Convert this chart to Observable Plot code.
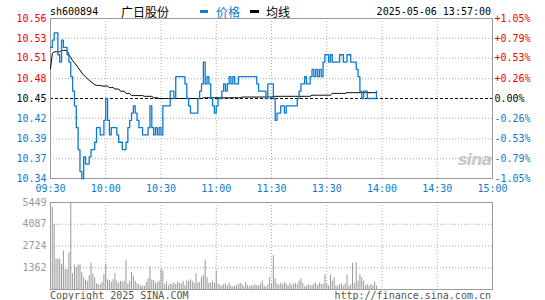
<!DOCTYPE html>
<html><head><meta charset="utf-8">
<script src="https://cdn.jsdelivr.net/npm/d3@7"></script>
<script src="https://cdn.jsdelivr.net/npm/@observablehq/plot@0.6"></script>
<style>
body{margin:0;background:#fff;}
#wrap{position:relative;width:545px;height:300px;overflow:hidden;background:#fff;font-family:"DejaVu Sans Mono",monospace;font-size:10px;}
.abs{position:absolute;white-space:nowrap;line-height:12px;}
.cjk{font-family:"Noto Sans CJK SC",sans-serif;font-size:12px;line-height:14px;}
#main,#vol{position:absolute;left:0;}
#main{top:0;}#vol{top:190px;}
</style></head><body>
<div id="wrap">
  <div id="main"></div>
  <div id="vol"></div>
  <span class="abs" style="left:50px;top:5.5px;color:#000;">sh600894</span>
  <span class="abs cjk" style="left:121px;top:4.5px;color:#000;">广日股份</span>
  <span class="abs" style="left:200px;top:10px;width:8px;height:3px;background:#0b7ad0;"></span>
  <span class="abs cjk" style="left:216px;top:4.5px;color:#0b7ad0;">价格</span>
  <span class="abs" style="left:250px;top:10px;width:9px;height:3px;background:#000;"></span>
  <span class="abs cjk" style="left:266px;top:4.5px;color:#000;">均线</span>
  <span class="abs" style="right:54px;top:5.5px;color:#000;">2025-05-06 13:57:00</span>
  <span class="abs" style="left:458px;top:151px;font-family:'DejaVu Sans';font-style:italic;font-weight:bold;font-size:16px;line-height:18px;color:#c8c8c8;letter-spacing:-1px;">sina</span>
  <span class="abs" style="left:50px;top:290px;color:#555;">Copyright 2025 SINA.COM</span>
  <span class="abs" style="right:54px;top:290px;color:#555;">http://finance.sina.com.cn</span>
</div>
<script>
const prevClose = 10.45;
const timeTicks = [0, 30, 60, 90, 120, 150, 180, 210, 240];
const timeLabels = ["09:30","10:00","10:30","11:00","11:30","13:30","14:00","14:30","15:00"];
const pctTicks = [1.05, 0.79, 0.53, 0.26, 0, -0.26, -0.53, -0.79, -1.05];
const priceLabels = ["10.56","10.53","10.51","10.48","10.45","10.42","10.39","10.37","10.34"];
const pctLabels = ["+1.05%","+0.79%","+0.53%","+0.26%","0.00%","-0.26%","-0.53%","-0.79%","-1.05%"];
const volTicks = [5449, 4087, 2724, 1362];

// minute-by-minute price (index = minute from 09:30; 121+ = afternoon from 13:01)
const prices = [
10.52,10.53,10.54,10.54,10.51,10.50,10.53,10.52,10.52,10.51,
10.50,10.48,10.46,10.44,10.41,10.38,10.35,10.34,10.37,10.36,
10.36,10.37,10.38,10.38,10.39,10.41,10.41,10.40,10.40,10.42,
10.45,10.42,10.40,10.41,10.41,10.41,10.40,10.39,10.39,10.38,
10.38,10.39,10.41,10.42,10.43,10.44,10.43,10.42,10.41,10.41,
10.40,10.40,10.40,10.41,10.44,10.41,10.40,10.41,10.40,10.41,
10.40,10.44,10.44,10.44,10.44,10.46,10.46,10.45,10.48,10.48,
10.48,10.48,10.48,10.47,10.45,10.44,10.43,10.43,10.43,10.43,
10.45,10.46,10.47,10.50,10.47,10.48,10.47,10.45,10.44,10.43,
10.44,10.45,10.45,10.46,10.47,10.46,10.47,10.48,10.47,10.48,
10.47,10.47,10.48,10.48,10.48,10.48,10.48,10.48,10.48,10.48,
10.48,10.48,10.47,10.46,10.46,10.46,10.46,10.45,10.47,10.47,
10.47,10.45,10.42,10.43,10.43,10.44,10.44,10.43,10.44,10.44,
10.44,10.44,10.44,10.44,10.45,10.46,10.47,10.47,10.48,10.47,
10.47,10.48,10.49,10.48,10.49,10.48,10.49,10.48,10.50,10.51,
10.51,10.50,10.51,10.50,10.50,10.50,10.50,10.51,10.51,10.50,
10.50,10.51,10.51,10.50,10.50,10.50,10.49,10.48,10.46,10.45,
10.46,10.46,10.45,10.45,10.45,10.45,10.45,10.46];

const avgPrice = [
10.491,10.512,10.514,10.514,10.514,10.514,10.516,10.516,10.516,10.516,
10.510,10.506,10.502,10.499,10.496,10.492,10.489,10.485,10.482,10.480,
10.477,10.475,10.473,10.471,10.469,10.468,10.468,10.468,10.467,10.467,
10.467,10.467,10.465,10.465,10.465,10.463,10.463,10.463,10.460,10.460,
10.460,10.457,10.457,10.457,10.454,10.454,10.454,10.454,10.454,10.454,
10.454,10.453,10.453,10.453,10.453,10.453,10.451,10.451,10.451,10.450,
10.450,10.450,10.450,10.450,10.450,10.450,10.450,10.450,10.450,10.450,
10.450,10.450,10.450,10.450,10.450,10.450,10.450,10.450,10.450,10.450,
10.450,10.450,10.450,10.451,10.451,10.451,10.451,10.451,10.451,10.451,
10.451,10.451,10.451,10.451,10.451,10.451,10.451,10.451,10.451,10.451,
10.451,10.451,10.451,10.451,10.452,10.452,10.452,10.452,10.452,10.452,
10.452,10.452,10.452,10.452,10.452,10.452,10.452,10.452,10.452,10.452,
10.452,10.453,10.453,10.453,10.453,10.453,10.453,10.453,10.453,10.453,
10.453,10.453,10.453,10.453,10.453,10.453,10.453,10.453,10.453,10.453,
10.453,10.453,10.4545,10.4545,10.4545,10.4545,10.4545,10.4545,10.4545,10.4545,
10.4545,10.4545,10.4545,10.457,10.457,10.457,10.457,10.457,10.457,10.457,
10.457,10.458,10.458,10.458,10.458,10.458,10.458,10.458,10.458,10.458,
10.458,10.458,10.458,10.458,10.458,10.458,10.458,10.458];

const volumes = [
1060,5146,4087,1903,1903,1903,1578,2400,1254,1254,
2292,5449,995,1535,1384,1535,1535,1060,735,562,
519,865,1643,973,735,346,303,303,432,930,
1578,605,562,454,605,995,519,389,519,454,
519,1795,346,519,1060,843,519,346,303,216,
216,216,454,670,1427,605,562,389,432,519,
1254,1168,303,454,238,346,303,432,303,454,
389,346,519,238,519,519,605,519,389,995,
432,432,778,886,1816,735,389,389,519,389,
1168,346,238,216,303,346,216,389,216,173,
216,238,303,389,303,173,432,238,173,238,
216,303,238,216,346,519,216,173,303,735,
346,2119,670,346,259,389,303,454,346,216,
389,259,346,389,303,519,670,389,173,216,
303,216,238,346,389,238,389,346,303,930,
346,216,886,519,735,216,216,303,346,216,
346,908,216,303,1643,389,1686,519,930,735,
519,238,303,216,303,216,454,216];

const BLUE = "#0b7ad0", RED = "#f00000", GRID = "#aaaaaa", FRAME = "#999999";
const toPrice = p => prevClose * (1 + p / 100);
const lo = toPrice(-1.05), hi = toPrice(1.05);
const labelColor = p => p > 0 ? RED : (p < 0 ? BLUE : "#000");
const idx = pctTicks.map((_, i) => i);
const innerTimes = timeTicks.slice(1, -1);
const innerPct = pctTicks.slice(1, -1);

const style = {fontFamily: "DejaVu Sans Mono", fontSize: "10px", background: "transparent", overflow: "visible"};

const main = Plot.plot({
  width: 545, height: 200, marginLeft: 50, marginRight: 53, marginTop: 18, marginBottom: 22,
  style,
  x: {domain: [0, 240], axis: null},
  y: {domain: [lo, hi], axis: null},
  marks: [
    Plot.ruleX(innerTimes, {stroke: GRID, strokeDasharray: "1,2"}),
    Plot.ruleY(innerPct.filter(p => p !== 0), {y: p => toPrice(p), stroke: GRID, strokeDasharray: "1,2"}),
    Plot.ruleY([prevClose], {stroke: "#000", strokeDasharray: "3,2"}),
    Plot.frame({stroke: FRAME}),
    Plot.line(avgPrice, {x: (d, i) => i, y: d => d, stroke: "#000", strokeWidth: 1}),
    Plot.line(prices, {x: (d, i) => i, y: d => d, stroke: BLUE, strokeWidth: 1.3, curve: "step-after"}),
    Plot.text(idx, {x: () => 0, y: i => toPrice(pctTicks[i]), text: i => priceLabels[i], fill: i => labelColor(pctTicks[i]), textAnchor: "end", dx: -4}),
    Plot.text(idx, {x: () => 240, y: i => toPrice(pctTicks[i]), text: i => pctLabels[i], fill: i => labelColor(pctTicks[i]), textAnchor: "start", dx: 2}),
    Plot.text(timeTicks, {x: d => d, y: () => lo, text: (d, i) => timeLabels[i], fill: BLUE, dy: 10})
  ]
});
document.getElementById("main").appendChild(main);

const vol = Plot.plot({
  width: 545, height: 110, marginLeft: 50, marginRight: 53, marginTop: 12, marginBottom: 11,
  style,
  x: {domain: [0, 240], axis: null},
  y: {domain: [0, 5449], axis: null},
  marks: [
    Plot.ruleX(innerTimes, {stroke: GRID, strokeDasharray: "1,2"}),
    Plot.ruleY(volTicks.slice(1), {stroke: GRID, strokeDasharray: "1,2"}),
    Plot.ruleX(volumes, {x: (d, i) => i, y1: 0, y2: d => d, stroke: "#999", strokeWidth: 1}),
    Plot.frame({stroke: FRAME}),
    Plot.text(volTicks, {x: () => 0, y: d => d, text: d => String(d), fill: "#999", textAnchor: "end", dx: -4})
  ]
});
document.getElementById("vol").appendChild(vol);
</script>
</body></html>
